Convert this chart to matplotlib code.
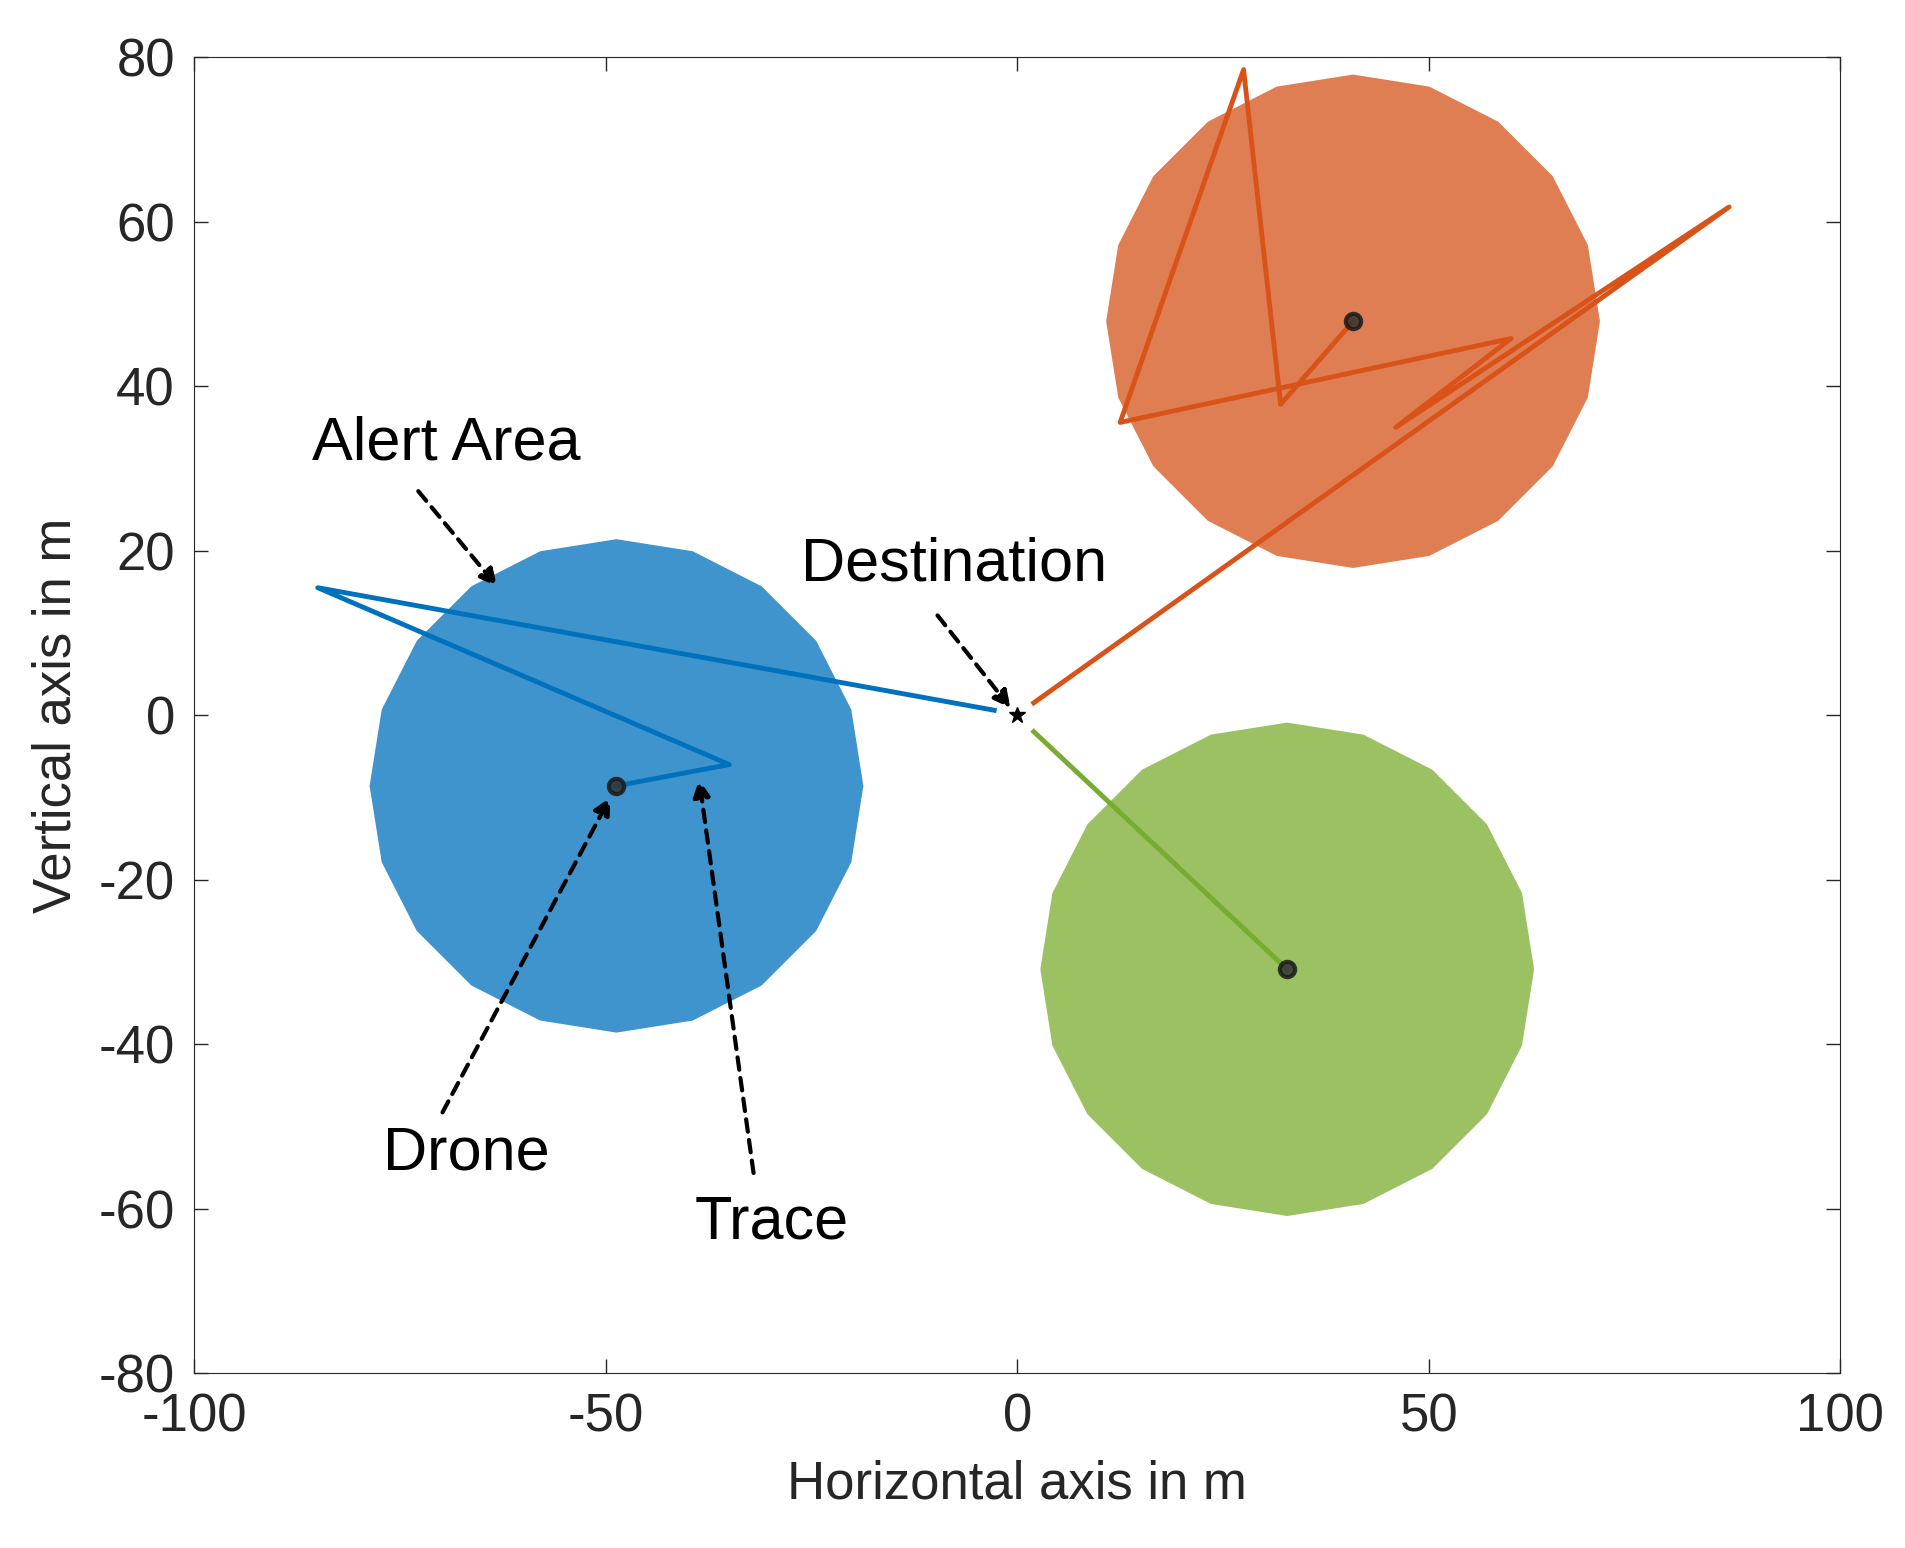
import numpy as np
import matplotlib
matplotlib.use("Agg")
import matplotlib.pyplot as plt

plt.rcParams['font.family'] = ['Liberation Sans', 'DejaVu Sans']
plt.rcParams['axes.unicode_minus'] = False

centers_x = [-48.7, 40.8, 32.8]
centers_y = [-8.6, 47.9, -30.9]
radius = 30
fill_colors = ['#3f94cd', '#e07e53', '#9bc163']
line_colors = ['#0072BD', '#D95319', '#77AC30']

blue_x = [-2.8, -85, -35, -48.7]
blue_y = [0.6, 15.5, -6, -8.6]
orange_x = [2, 86.5, 46, 60, 12.5, 27.5, 32, 40.8]
orange_y = [1.5, 61.8, 35, 45.8, 35.6, 78.5, 37.8, 47.9]
green_x = [2, 32.8]
green_y = [-2, -30.9]
traces = [(blue_x, blue_y), (orange_x, orange_y), (green_x, green_y)]

fig = plt.figure(figsize=(19.05, 15.48), dpi=100)
ax = fig.add_axes([0.102, 0.113, 0.864, 0.85])

n = 20
th = np.linspace(0, 2*np.pi, n, endpoint=False) + np.pi/2
for cx, cy, fc in zip(centers_x, centers_y, fill_colors):
    ax.fill(cx + radius*np.cos(th), cy + radius*np.sin(th), color=fc, lw=0, zorder=1)
for (tx, ty), lc in zip(traces, line_colors):
    ax.plot(tx, ty, color=lc, lw=3.5, zorder=2)
for cx, cy in zip(centers_x, centers_y):
    ax.plot(cx, cy, 'o', ms=11, mfc='#333333', mec='#1a1a1a', mew=3, alpha=0.85, zorder=3)
ax.plot(0, 0, '*', color='black', ms=12, zorder=4)

ann = [("Alert Area", (-69.4, 33), (-73, 27.5), (-63, 15.4)),
       ("Destination", (-7.7, 18.3), (-9.9, 12.4), (-0.6, 0.6)),
       ("Drone", (-67, -53.3), (-70, -48.6), (-49.3, -9.7)),
       ("Trace", (-29.8, -61.7), (-32, -56), (-38.7, -7.5))]
for txt, tp, a0, a1 in ann:
    ax.text(tp[0], tp[1], txt, fontsize=44, ha='center', va='center')
    ax.annotate('', xy=a1, xytext=a0,
                arrowprops=dict(arrowstyle='-|>,head_width=0.5,head_length=1.0',
                                color='black', lw=3, linestyle=(0, (3, 2))))

ax.set_xlim(-100, 100)
ax.set_ylim(-80, 80)
ax.set_xticks([-100, -50, 0, 50, 100])
ax.set_yticks(np.arange(-80, 81, 20))
ax.tick_params(direction='in', length=10, width=1, labelsize=38, pad=14,
               top=True, right=True, colors='#262626')
for s in ax.spines.values():
    s.set_color('#262626')
ax.set_xlabel('Horizontal axis in m', fontsize=38, color='#262626', labelpad=12)
ax.set_ylabel('Vertical axis in m', fontsize=38, color='#262626', labelpad=12)
fig.savefig('out.png', dpi=100)
